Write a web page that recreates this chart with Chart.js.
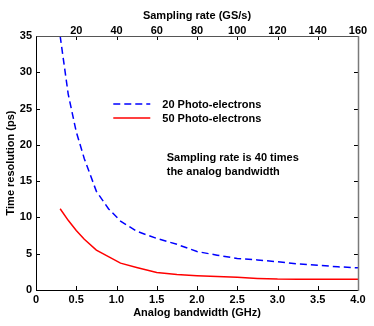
<!DOCTYPE html>
<html><head><meta charset="utf-8">
<script src="https://cdn.jsdelivr.net/npm/chart.js@4.4.1/dist/chart.umd.min.js"></script>
<style>html,body{margin:0;padding:0;background:#fff;}canvas{display:block;}</style>
</head><body>
<canvas id="c" width="374" height="326"></canvas>
<script>
const bandwidth = [0.3,0.4,0.5,0.6,0.75,0.9,1.05,1.25,1.5,1.75,2,2.25,2.5,2.75,3,3.25,3.5,3.75,4];
const pe20 = [35,27,21.8,18.1,13.6,11.2,9.5,8.1,7.1,6.3,5.3,4.8,4.35,4.15,3.9,3.6,3.4,3.2,3.05];
const pe50 = [11.2,9.6,8.2,7.0,5.5,4.6,3.7,3.1,2.4,2.15,1.97,1.85,1.75,1.6,1.5,1.47,1.47,1.47,1.47];
const seriesLabels = ["20 Photo-electrons","50 Photo-electrons"];
const bottomTitle = "Analog bandwidth (GHz)";
const topTitle = "Sampling rate (GS/s)";
const yTitle = "Time resolution (ps)";
const noteLines = ["Sampling rate is 40 times","the analog bandwidth"];

const FONT = "'Liberation Sans', Arial, sans-serif";
const toPts = (xs, ys) => xs.map((x,i)=>({x:x,y:ys[i]}));

const inwardTicks = {
  id:'inwardTicks',
  afterDraw(chart){
    const ctx = chart.ctx, a = chart.chartArea;
    ctx.save();
    ctx.strokeStyle = '#000'; ctx.lineWidth = 1;
    const L = 4;
    const xs = chart.scales.x, xt = chart.scales.x2, ys = chart.scales.y;
    ctx.beginPath();
    xs.ticks.forEach(t=>{ const p = Math.round(xs.getPixelForValue(t.value))+0.5;
      ctx.moveTo(p,a.bottom); ctx.lineTo(p,a.bottom-L); });
    xt.ticks.forEach(t=>{ const p = Math.round(xt.getPixelForValue(t.value))+0.5;
      ctx.moveTo(p,a.top); ctx.lineTo(p,a.top+L); });
    ys.ticks.forEach(t=>{ const p = Math.round(ys.getPixelForValue(t.value))+0.5;
      ctx.moveTo(a.left,p); ctx.lineTo(a.left+L,p);
      ctx.moveTo(a.right,p); ctx.lineTo(a.right-L,p); });
    ctx.stroke();
    // frame
    ctx.beginPath();
    ctx.moveTo(a.left+0.5,a.bottom+0.5); ctx.lineTo(a.right+0.5,a.bottom+0.5);
    ctx.moveTo(a.left+0.5,a.top); ctx.lineTo(a.left+0.5,a.bottom+0.5);
    ctx.stroke();
    ctx.strokeStyle = '#555'; ctx.beginPath();
    ctx.moveTo(a.left+0.5,a.top+0.5); ctx.lineTo(a.right+0.5,a.top+0.5); ctx.stroke();
    ctx.strokeStyle = '#7a7a7a'; ctx.lineWidth = 1.5;
    ctx.beginPath(); ctx.moveTo(a.right+0.5,a.top); ctx.lineTo(a.right+0.5,a.bottom+1); ctx.stroke();

    // legend
    const ds = chart.data.datasets;
    const lx0 = a.left + 0.24*(a.right-a.left), lx1 = lx0 + 37, tx = lx1 + 12;
    const ly = [a.top + 68, a.top + 82];
    ctx.font = "bold 11px " + FONT; ctx.textBaseline = 'middle'; ctx.textAlign='left';
    ds.forEach((d,i)=>{
      ctx.strokeStyle = d.borderColor; ctx.lineWidth = d.borderWidth;
      ctx.setLineDash(d.borderDash || []);
      ctx.beginPath(); ctx.moveTo(lx0, ly[i]); ctx.lineTo(lx1, ly[i]); ctx.stroke();
      ctx.setLineDash([]);
      ctx.fillStyle = '#000'; ctx.fillText(d.label, tx, ly[i]+1);
    });
    // note
    const nx = a.left + 0.406*(a.right-a.left);
    noteLines.forEach((s,i)=>{ ctx.fillText(s, nx, a.top + 122 + i*14); });
    ctx.restore();
  }
};

const tickFont = {family: FONT, size: 11, weight: 'bold'};
new Chart(document.getElementById('c'), {
  type: 'scatter',
  data: {
    datasets: [
      {label: seriesLabels[0], data: toPts(bandwidth, pe20), showLine: true, borderColor: '#0000ff',
       borderWidth: 1.5, borderDash: [7,4], pointRadius: 0, tension: 0, xAxisID:'x', yAxisID:'y'},
      {label: seriesLabels[1], data: toPts(bandwidth, pe50), showLine: true, borderColor: '#ff0000',
       borderWidth: 1.5, pointRadius: 0, tension: 0, xAxisID:'x', yAxisID:'y'}
    ]
  },
  options: {
    responsive: false, animation: false,
    layout: {padding: {right: 16, top: 0, left: 0, bottom: 0}},
    plugins: {legend: {display: false}, tooltip: {enabled: false}},
    scales: {
      x: {type:'linear', position:'bottom', min:0, max:4,
          afterFit(s){ s.height = 36; },
          grid:{drawOnChartArea:false, drawTicks:false}, border:{display:false},
          ticks:{stepSize:0.5, color:'#000', font:tickFont, padding:3, maxRotation:0},
          title:{display:true, text:bottomTitle, color:'#000', font:tickFont, padding:{top:0,bottom:6}}},
      x2: {type:'linear', position:'top', min:0, max:160,
          afterFit(s){ s.height = 36; },
          grid:{drawOnChartArea:false, drawTicks:false}, border:{display:false},
          ticks:{stepSize:20, color:'#000', font:tickFont, padding:-2, maxRotation:0,
                 callback:(v)=> v===0 ? '' : v},
          title:{display:true, text:topTitle, color:'#000', font:tickFont, padding:{top:9,bottom:0}}},
      y: {type:'linear', position:'left', min:0, max:35,
          afterFit(s){ s.width = 36; },
          grid:{drawOnChartArea:false, drawTicks:false}, border:{display:false},
          ticks:{stepSize:5, color:'#000', font:tickFont, padding:4},
          title:{display:true, text:yTitle, color:'#000', font:tickFont, padding:{top:4,bottom:0}}}
    }
  },
  plugins: [inwardTicks]
});
</script>
</body></html>
